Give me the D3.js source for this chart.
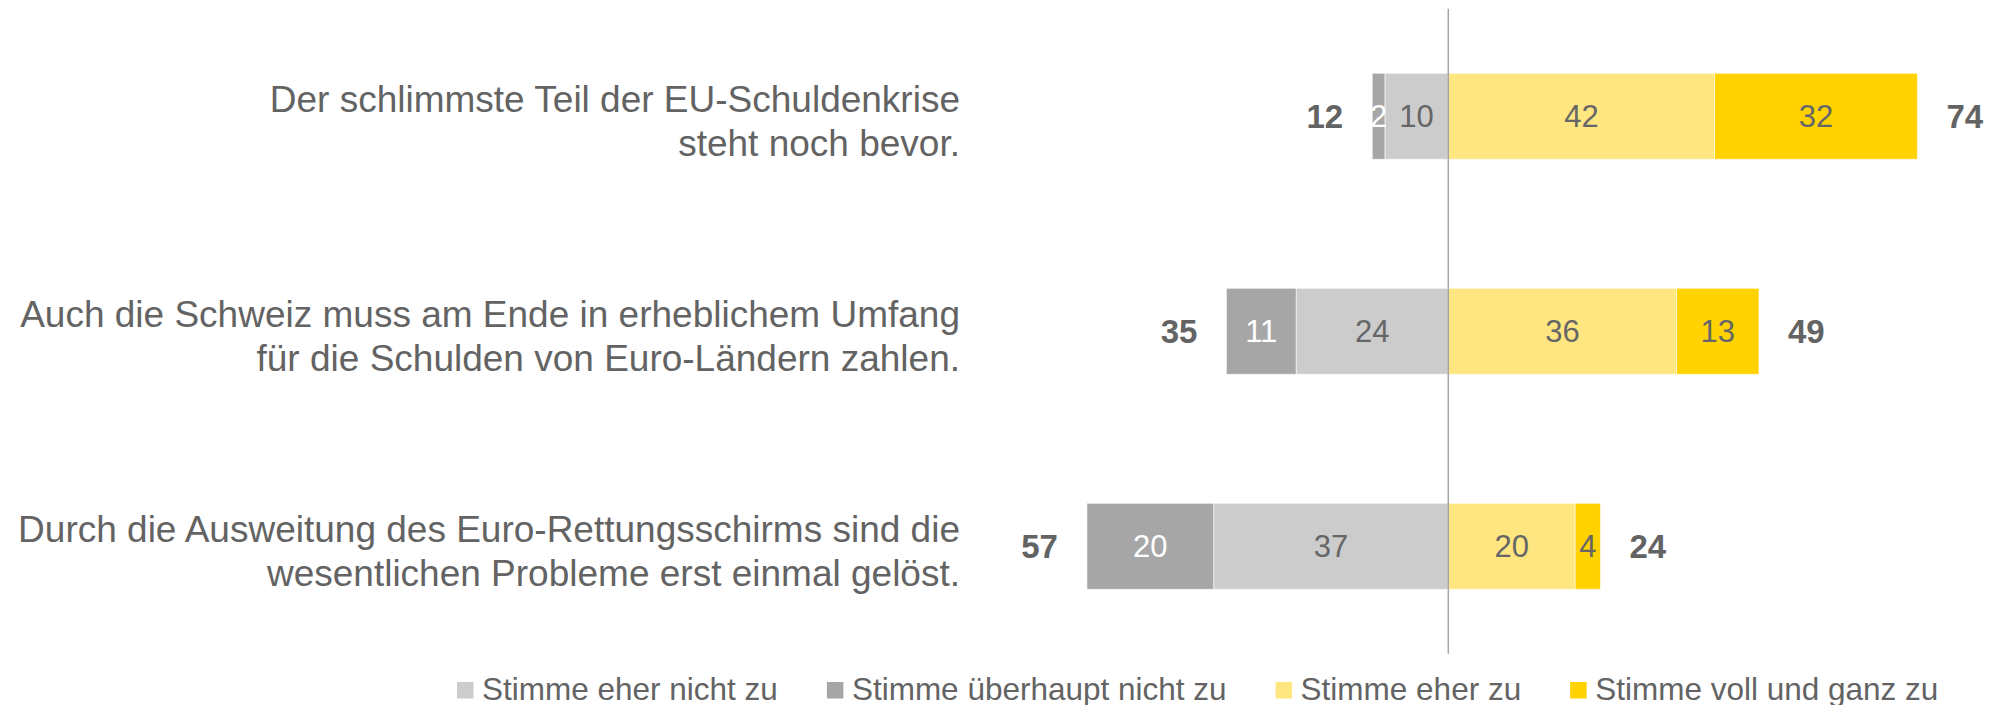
<!DOCTYPE html>
<html>
<head>
<meta charset="utf-8">
<script src="https://cdn.jsdelivr.net/npm/d3@7"></script>
<style>
  html, body { margin: 0; padding: 0; background: #fff; }
  svg { display: block; font-family: "Liberation Sans", Arial, sans-serif; }
</style>
</head>
<body>
<svg id="chart" width="2004" height="705"></svg>
<script>
// ---- data ----
const categories = [
  "Der schlimmste Teil der EU-Schuldenkrise\nsteht noch bevor.",
  "Auch die Schweiz muss am Ende in erheblichem Umfang\nfür die Schulden von Euro-Ländern zahlen.",
  "Durch die Ausweitung des Euro-Rettungsschirms sind die\nwesentlichen Probleme erst einmal gelöst."
];
const seriesNames = ["Stimme eher nicht zu", "Stimme überhaupt nicht zu", "Stimme eher zu", "Stimme voll und ganz zu"];
const ratherDisagree = [10, 24, 37];
const stronglyDisagree = [2, 11, 20];
const ratherAgree = [42, 36, 20];
const stronglyAgree = [32, 13, 4];
const totalDisagree = [12, 35, 57];
const totalAgree = [74, 49, 24];
const colors = ["#CCCCCC", "#A6A6A6", "#FFE681", "#FFD200"];
const labelColors = ["#666666", "#FFFFFF", "#666666", "#666666"];

// ---- layout ----
const svg = d3.select("#chart");
const textColor = "#636363";
const x = d3.scaleLinear().domain([-60, 80]).range([1448.3 - 60 * 6.34, 1448.3 + 80 * 6.34]);
const y = d3.scaleBand().domain(d3.range(categories.length)).range([8.8, 653.8]).paddingInner(0.6).paddingOuter(0.3);

// build segments
const segs = [];
categories.forEach((c, i) => {
  const rd = ratherDisagree[i], sd = stronglyDisagree[i], ra = ratherAgree[i], sa = stronglyAgree[i];
  segs.push({ i, s: 0, x0: -rd, x1: 0, v: rd });
  segs.push({ i, s: 1, x0: -rd - sd, x1: -rd, v: sd });
  segs.push({ i, s: 2, x0: 0, x1: ra, v: ra });
  segs.push({ i, s: 3, x0: ra, x1: ra + sa, v: sa });
});

const g = svg.append("g");
g.selectAll("rect.bar").data(segs).join("rect")
  .attr("class", "bar")
  .attr("x", d => x(d.x0))
  .attr("width", d => x(d.x1) - x(d.x0))
  .attr("y", d => y(d.i))
  .attr("height", y.bandwidth())
  .attr("fill", d => colors[d.s])
  .attr("stroke", "#ffffff")
  .attr("stroke-opacity", 0.6)
  .attr("stroke-width", 1);

g.selectAll("text.val").data(segs).join("text")
  .attr("class", "val")
  .attr("x", d => (x(d.x0) + x(d.x1)) / 2)
  .attr("y", d => y(d.i) + y.bandwidth() / 2 + 11)
  .attr("text-anchor", "middle")
  .attr("font-size", 31)
  .attr("fill", d => labelColors[d.s])
  .text(d => d.v);

// zero line
g.append("line")
  .attr("x1", x(0)).attr("x2", x(0))
  .attr("y1", y.range()[0]).attr("y2", y.range()[1])
  .attr("stroke", "#A6A6A6").attr("stroke-width", 1.5);

// totals
g.selectAll("text.totL").data(totalDisagree).join("text")
  .attr("class", "totL")
  .attr("x", (d, i) => x(-ratherDisagree[i] - stronglyDisagree[i]) - 29)
  .attr("y", (d, i) => y(i) + y.bandwidth() / 2 + 12)
  .attr("text-anchor", "end")
  .attr("font-size", 33).attr("font-weight", "bold")
  .attr("fill", textColor)
  .text(d => d);
g.selectAll("text.totR").data(totalAgree).join("text")
  .attr("class", "totR")
  .attr("x", (d, i) => x(ratherAgree[i] + stronglyAgree[i]) + 29)
  .attr("y", (d, i) => y(i) + y.bandwidth() / 2 + 12)
  .attr("text-anchor", "start")
  .attr("font-size", 33).attr("font-weight", "bold")
  .attr("fill", textColor)
  .text(d => d);

// category labels
categories.forEach((c, i) => {
  const lines = c.split("\n");
  const cy = y(i) + y.bandwidth() / 2 + 4;
  const t = g.append("text")
    .attr("text-anchor", "end")
    .attr("font-size", 37)
    .attr("fill", textColor);
  lines.forEach((ln, k) => {
    t.append("tspan")
      .attr("x", 960)
      .attr("y", cy - 22 + 13.3 + k * 44)
      .text(ln);
  });
});

// legend
const leg = svg.append("g");
let lx = 457;
seriesNames.forEach((name, k) => {
  leg.append("rect").attr("x", lx).attr("y", 682).attr("width", 16.5).attr("height", 16.5).attr("fill", colors[k]);
  const t = leg.append("text").attr("x", lx + 25).attr("y", 699.5)
    .attr("font-size", 31.5).attr("fill", textColor).text(name);
  lx += 25 + t.node().getComputedTextLength() + 49;
});
</script>
</body>
</html>
